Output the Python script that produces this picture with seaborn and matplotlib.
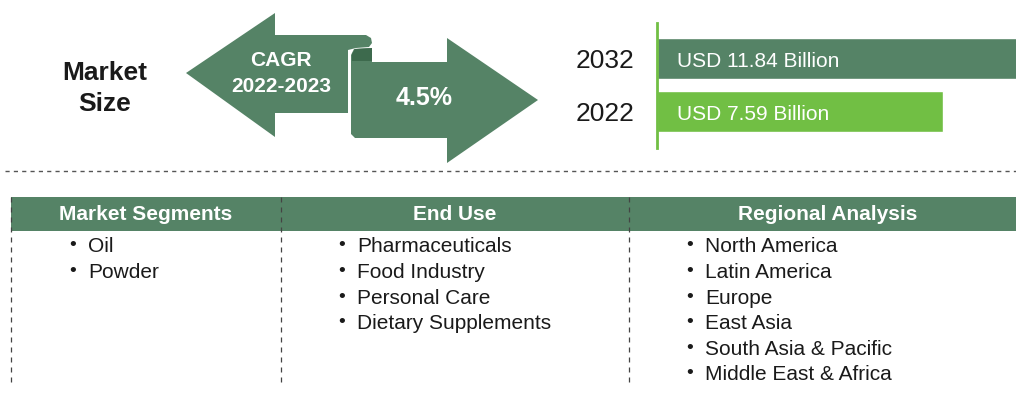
import matplotlib.pyplot as plt
import seaborn as sns
import pandas as pd
from matplotlib.patches import Polygon, Rectangle

# data
years = ['2032', '2022']
market_usd_bn = [11.84, 7.59]
bar_labels = ['USD 11.84 Billion', 'USD 7.59 Billion']
cagr_label = ['CAGR', '2022-2023']
cagr_value = '4.5%'
headers = ['Market Segments', 'End Use', 'Regional Analysis']
segments = ['Oil', 'Powder']
end_use = ['Pharmaceuticals', 'Food Industry', 'Personal Care', 'Dietary Supplements']
regions = ['North America', 'Latin America', 'Europe', 'East Asia',
           'South Asia & Pacific', 'Middle East & Africa']

dark = '#558366'
light = '#71bf44'
curl = '#3d6a4d'
ink = '#1a1a1a'

sns.set_theme(style='white')
plt.rcParams['font.family'] = ['Liberation Sans', 'DejaVu Sans']

W, H = 1016, 403
fig = plt.figure(figsize=(W / 100, H / 100), dpi=100)

# overlay in pixel coords
bg = fig.add_axes([0, 0, 1, 1])
bg.set_xlim(0, W)
bg.set_ylim(H, 0)
bg.axis('off')

bg.text(105, 73, 'Market', ha='center', va='center', fontsize=19, fontweight='bold', color=ink)
bg.text(105, 104, 'Size', ha='center', va='center', fontsize=19, fontweight='bold', color=ink)

# CAGR banner arrows
left_arrow = [(186, 73), (275, 13), (275, 35), (366, 35), (371, 38), (372, 43),
              (369, 47), (356, 48), (348, 50), (348, 113), (275, 113), (275, 137)]
right_arrow = [(351, 55), (354, 49), (372, 48), (372, 62), (447, 62), (447, 38),
               (538, 100), (447, 163), (447, 138), (355, 138), (351, 134)]
bg.add_patch(Polygon(left_arrow, closed=True, fc=dark, ec='none'))
bg.add_patch(Polygon(right_arrow, closed=True, fc=dark, ec='none'))
bg.add_patch(Polygon([(352, 54), (355, 49), (372, 48), (372, 61), (352, 61)],
                     closed=True, fc=curl, ec='none'))
bg.text(281, 61, cagr_label[0], ha='center', va='center', fontsize=15, fontweight='bold', color='white')
bg.text(281, 87, cagr_label[1], ha='center', va='center', fontsize=15, fontweight='bold', color='white')
bg.text(424, 98, cagr_value, ha='center', va='center', fontsize=18, fontweight='bold', color='white')

# separator
bg.plot([5, W], [171, 171], color='#555555', lw=1, ls=(0, (3, 3)))

# table
bg.add_patch(Rectangle((11, 197), W - 11, 34, fc=dark, ec='none'))
for x in [11, 281, 629]:
    bg.plot([x, x], [197, 384], color='#444444', lw=0.9, ls=(0, (4, 4)))
hdr_x = [146, 455, 828]
for hx, h in zip(hdr_x, headers):
    bg.text(hx, 214, h, ha='center', va='center', fontsize=15, fontweight='bold', color='white')

col_x = [73, 342, 690]
row_y0, row_dy = 247, 25.6
for cx, items in zip(col_x, [segments, end_use, regions]):
    for i, it in enumerate(items):
        y = row_y0 + i * row_dy
        bg.text(cx, y - 1, '\u2022', ha='center', va='center', fontsize=14, color=ink)
        bg.text(cx + 15, y, it, ha='left', va='center', fontsize=15, color=ink)

# market size bars
ax = fig.add_axes([657 / W, (H - 148) / H, (W - 657) / W, 125 / H])
df = pd.DataFrame({'year': years, 'value': market_usd_bn})
sns.barplot(data=df, x='value', y='year', hue='year', palette=[dark, light],
            orient='h', width=0.774, legend=False, ax=ax, saturation=1)
ax.set_xlim(0, 7.59 * 359 / 286)
ax.set_ylim(1.69, -0.67)
ax.set_xlabel('')
ax.set_ylabel('')
ax.set_xticks([])
ax.tick_params(axis='y', length=0, pad=16, labelsize=19, labelcolor=ink)
for lbl in ax.get_yticklabels():
    lbl.set_va('center_baseline')
for s in ['top', 'right', 'bottom']:
    ax.spines[s].set_visible(False)
ax.spines['left'].set_color(light)
ax.spines['left'].set_linewidth(2)
ax.patch.set_alpha(0)
for i, lab in enumerate(bar_labels):
    ax.annotate(lab, xy=(0, i), xytext=(14.5, -2.5), textcoords='offset points',
                ha='left', va='center', fontsize=15, color='white')

fig.savefig('out.png', dpi=100)
